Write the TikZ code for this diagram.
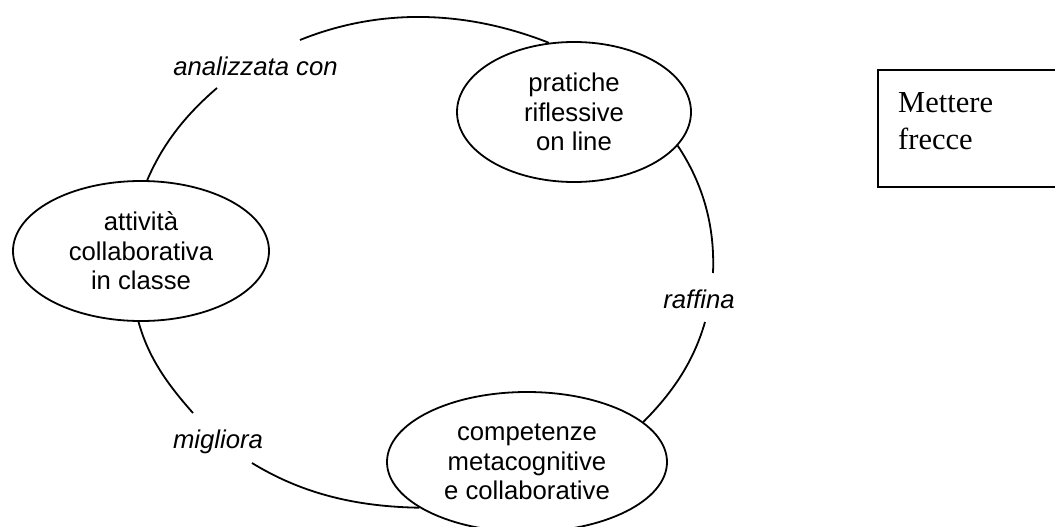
\documentclass[tikz,border=0pt]{standalone}
\usepackage{fontspec}
\setmainfont{Liberation Sans}
\newfontfamily\notefont{Liberation Serif}
\usetikzlibrary{shapes.geometric}
\tikzset{
  concept/.style={ellipse, draw, line width=1.8pt, inner sep=0pt, align=center,
    font=\fontsize{25.7}{29.5}\selectfont},
  rel/.style={font=\fontsize{25.7}{29.5}\selectfont\itshape, inner sep=0pt,
    text height=18.5pt, text depth=5.5pt},
  link/.style={line width=1.8pt, looseness=0.9},
  notebox/.style={draw, line width=2.2pt, rectangle, inner sep=0pt},
  notetext/.style={inner sep=0pt, align=left, font=\notefont\fontsize{30.5}{37}\selectfont}
}
\begin{document}
\begin{tikzpicture}[x=1pt,y=1pt]
\useasboundingbox (0,0) rectangle (1055,-527);
\clip (0,0) rectangle (1055,-527);
% concept nodes
\node[concept, minimum width=234pt, minimum height=140pt] (prat) at (574,-112) {pratiche\\riflessive\\on line};
\node[concept, minimum width=256pt, minimum height=140pt] (att) at (141,-251) {attività\\collaborativa\\in classe};
\node[concept, minimum width=280pt, minimum height=140pt] (comp) at (527,-462) {competenze\\metacognitive\\e collaborative};
% link labels
\node[rel] (lan) at (255.5,-68.5) {analizzata con};
\node[rel] (lra) at (699,-301.5) {raffina};
\node[rel] (lmi) at (218,-441.5) {migliora};
% connector ends beside the labels
\coordinate (lan-a) at ([shift={(44.5,28.5)}]lan.center);
\coordinate (lan-b) at ([shift={(-38.5,-19.5)}]lan.center);
\coordinate (lmi-a) at ([shift={(-25,28.5)}]lmi.center);
\coordinate (lmi-b) at ([shift={(34,-21.5)}]lmi.center);
\coordinate (lra-a) at ([shift={(6,-20.5)}]lra.center);
\coordinate (lra-b) at ([shift={(14,28.5)}]lra.center);
% connectors
\draw[link] (prat.110) to[out=158.5,in=22] (lan-a);
\draw[link] (lan-b) to[out=220.7,in=66.7] (att.85);
\draw[link] (att.268) to[out=285.3,in=131.7] (lmi-a);
\draw[link] (lmi-b) to[out=328.5,in=179] (comp.203);
\draw[link] (comp.19) to[out=45,in=254] (lra-a);
\draw[link] (lra-b) to[out=87.6,in=303.6] (prat.-18);
% note box
\node[notebox, anchor=north west, minimum width=200pt, minimum height=117pt] (box) at (877,-69) {};
\node[notetext, anchor=north west] (note) at (898,-92) {Mettere\\frecce};
\end{tikzpicture}
\end{document}
